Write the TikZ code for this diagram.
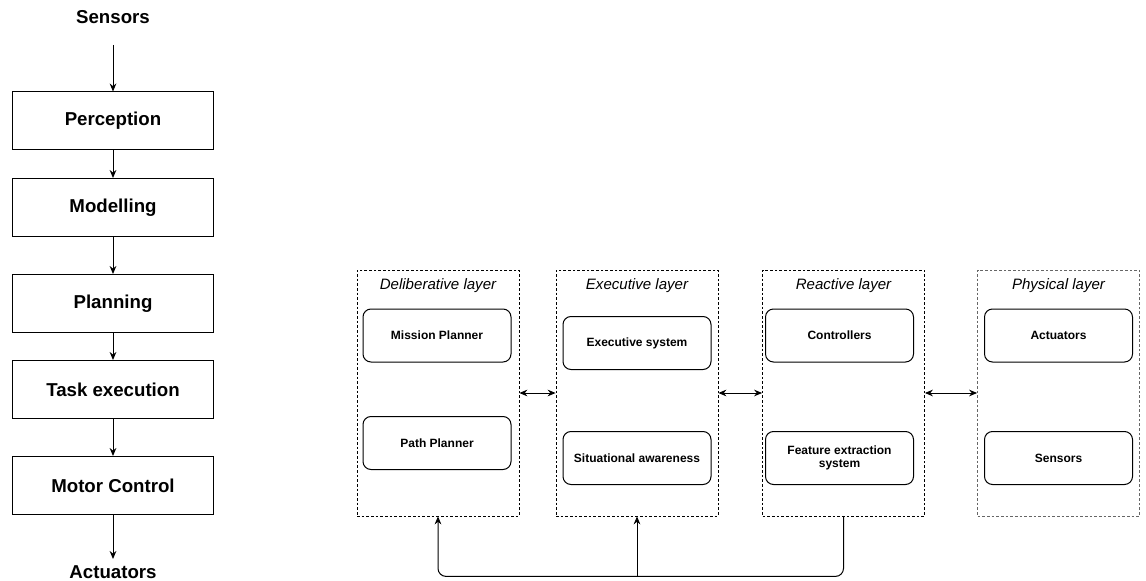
\documentclass[tikz,border=0pt]{standalone}
\usepackage{fontspec}
\setmainfont{Liberation Sans}
\usetikzlibrary{arrows.meta}
\tikzset{>={Stealth[length=6pt,width=5pt]}}

\begin{document}
\begin{tikzpicture}[x=0.75pt,y=-0.75pt,line width=0.75pt,
    stage/.style={draw,minimum width=150.75pt,minimum height=43.5pt,inner sep=0pt,font=\fontsize{14}{17}\selectfont\bfseries},
    ends/.style={inner sep=0pt,font=\fontsize{14}{17}\selectfont\bfseries},
    layer/.style={draw,dash pattern=on 2pt off 1.5pt,line width=0.6pt,minimum width=121.5pt,minimum height=184.5pt,inner sep=0pt},
    title/.style={inner sep=0pt,font=\fontsize{11.3}{13}\selectfont\itshape},
    unit/.style={draw,rounded corners=6pt,minimum width=111pt,minimum height=39.75pt,inner sep=0pt,align=center,font=\fontsize{9}{10}\selectfont\bfseries}]
  \useasboundingbox (0,0) rectangle (1146,581);
  \pgfmathsetmacro{\ColX}{113};
  \pgfmathsetmacro{\LayerY}{393};
  \pgfmathsetmacro{\TitleY}{286};
  \pgfmathsetmacro{\TopY}{335.5};
  % 
  \node[ends] (sens) at (\ColX,17) {Sensors};
  \node[stage] (perc) at (\ColX,121) {Perception};
  \node[stage] (model) at (\ColX,207.5) {Modelling};
  \node[stage] (plan) at (\ColX,303.5) {Planning};
  \node[stage] (task) at (\ColX,389.5) {Task execution};
  \node[stage] (motor) at (\ColX,485.5) {Motor Control};
  \node[ends] (act) at (\ColX,572) {Actuators};
  \coordinate (sensend) at (\ColX,45);
  \coordinate (actend) at (\ColX,559);
  \draw[->] (sensend) -- (perc);
  \draw[->] (perc) -- (model);
  \draw[->] (model) -- (plan);
  \draw[->] (plan) -- (task);
  \draw[->] (task) -- (motor);
  \draw[->] (motor) -- (actend);
  % 
  \node[layer] (delib) at (438,\LayerY) {};
  \node[layer] (exec) at (637,\LayerY) {};
  \node[layer] (react) at (843.5,\LayerY) {};
  \node[layer,draw=black!60] (phys) at (1058.5,\LayerY) {};
  \node[title] (delibt) at (438,\TitleY) {Deliberative layer};
  \node[title] (exect) at (637,\TitleY) {Executive layer};
  \node[title] (reactt) at (843.5,\TitleY) {Reactive layer};
  \node[title] (physt) at (1058.5,\TitleY) {Physical layer};
  % 
  \node[unit] (mission) at (437,\TopY) {Mission Planner};
  \node[unit] (path) at (437,443) {Path Planner};
  \node[unit] (execsys) at (637,343) {Executive system};
  \node[unit] (aware) at (637,458) {Situational awareness};
  \node[unit] (ctrl) at (839.5,\TopY) {Controllers};
  \node[unit] (feat) at (839.5,458) {Feature extraction\\system};
  \node[unit] (actu) at (1058.5,\TopY) {Actuators};
  \node[unit] (sensu) at (1058.5,458) {Sensors};
  % 
  \draw[<->] (delib) -- (exec);
  \draw[<->] (exec) -- (react);
  \draw[<->] (react) -- (phys);
  \coordinate (fb) at ([yshift=-45pt]react.south);
  \draw[->,rounded corners=6pt] (react.south) -- (fb) -| (delib.south);
  \draw[->] (fb -| exec.south) -- (exec.south);
\end{tikzpicture}
\end{document}
